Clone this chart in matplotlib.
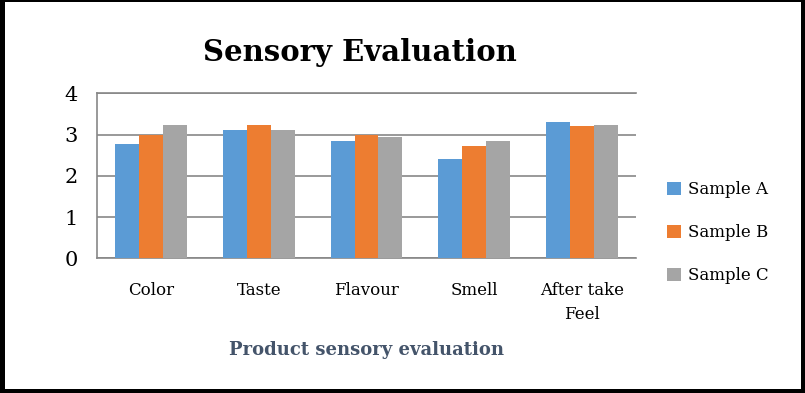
import matplotlib
matplotlib.use('Agg')
from matplotlib import pyplot as plt
from matplotlib.patches import Rectangle
import numpy as np

categories = ['Color', 'Taste', 'Flavour', 'Smell', 'After take\nFeel']
sample_a = [2.77, 3.11, 2.84, 2.41, 3.30]
sample_b = [2.98, 3.23, 2.98, 2.72, 3.20]
sample_c = [3.23, 3.11, 2.95, 2.85, 3.23]
series_names = ['Sample A', 'Sample B', 'Sample C']
colors = ['#5B9BD5', '#ED7D31', '#A5A5A5']

plt.rcParams['font.family'] = ['DejaVu Serif']

W, H = 805, 393
fig = plt.figure(figsize=(W / 100, H / 100), dpi=100)
ax = fig.add_axes([0.1205, 0.3427, 0.6696, 0.4198])

x = np.arange(len(categories))
w = 0.222
for i, (vals, name) in enumerate(zip([sample_a, sample_b, sample_c], series_names)):
    ax.bar(x + (i - 1) * w, vals, w, color=colors[i], label=name, zorder=3)

ax.set_xlim(-0.5, len(categories) - 0.5)
ax.set_ylim(0, 4)
ax.set_yticks([0, 1, 2, 3, 4])
ax.set_xticks(x)
ax.set_xticklabels(categories, fontsize=12, linespacing=1.55)
ax.tick_params(axis='y', labelsize=15, length=0, pad=14)
ax.tick_params(axis='x', length=0, pad=17)
ax.grid(axis='y', color='#878787', linewidth=1.2, zorder=0)
ax.spines['right'].set_visible(False)
for s in ['left', 'bottom', 'top']:
    ax.spines[s].set_color('#878787')
    ax.spines[s].set_linewidth(1.2)

ax.set_xlabel('Product sensory evaluation', fontsize=13, fontweight='bold',
              color='#44546A', labelpad=13)
fig.text(0.447, 0.867, 'Sensory Evaluation', fontsize=21, fontweight='bold',
         ha='center', va='center')

ax.legend(loc='center left', bbox_to_anchor=(1.03, 0.155), frameon=False,
          fontsize=12, handlelength=0.8, handleheight=0.8, labelspacing=1.55,
          handletextpad=0.45)

# black frame: thin on top, thicker on the other sides
for (x0, y0, fw, fh) in [(0, 0, 5, H), (W - 4, 0, 4, H), (0, 0, W, 4), (0, H - 1.5, W, 1.5)]:
    fig.patches.append(Rectangle((x0 / W, y0 / H), fw / W, fh / H,
                                 transform=fig.transFigure, color='black', lw=0))

fig.savefig('out.png', dpi=100)
